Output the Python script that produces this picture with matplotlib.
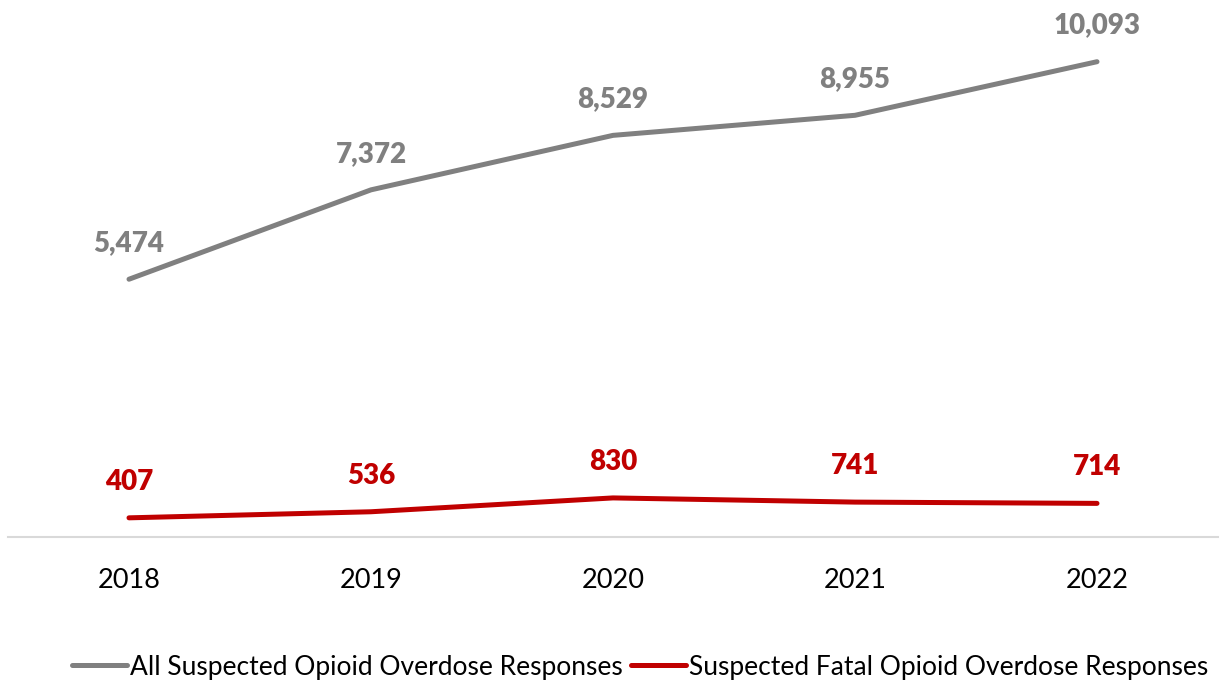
import matplotlib
matplotlib.use("Agg")
import matplotlib.pyplot as plt

years = ["2018", "2019", "2020", "2021", "2022"]
all_responses = [5474, 7372, 8529, 8955, 10093]
fatal_responses = [407, 536, 830, 741, 714]
series_names = ["All Suspected Opioid Overdose Responses",
                "Suspected Fatal Opioid Overdose Responses"]

plt.rcParams['font.family'] = ['Lato', 'DejaVu Sans']

W, H = 1228, 682
fig = plt.figure(figsize=(W/100, H/100), dpi=100)
ax = fig.add_axes([8/W, 1-537/H, (1218-8)/W, (537-19)/H])

x = list(range(len(years)))
gray = "#808080"
red = "#C00000"
l1, = ax.plot(x, all_responses, color=gray, lw=3.6, solid_capstyle='round', label=series_names[0])
l2, = ax.plot(x, fatal_responses, color=red, lw=3.6, solid_capstyle='round', label=series_names[1])

for xi, v in zip(x, all_responses):
    ax.annotate(f"{v:,}", (xi, v), xytext=(0, 26), textcoords='offset points',
                ha='center', va='center', fontsize=20, fontweight='heavy', color=gray)
for xi, v in zip(x, fatal_responses):
    ax.annotate(f"{v:,}", (xi, v), xytext=(0, 26), textcoords='offset points',
                ha='center', va='center', fontsize=20, fontweight='heavy', color=red)

ax.set_xlim(-0.5, len(years) - 0.5)
ax.set_ylim(0, 11000)
ax.set_xticks(x)
ax.set_xticklabels(years, fontsize=19.5)
ax.tick_params(axis='x', length=0, pad=22)
ax.set_yticks([])
for s in ['top', 'right', 'left']:
    ax.spines[s].set_visible(False)
ax.spines['bottom'].set_color("#D9D9D9")
ax.spines['bottom'].set_linewidth(1.5)
ax.patch.set_alpha(0)

fig.legend(handles=[l1, l2], loc='center', bbox_to_anchor=(640/W, 1-667/H), ncol=2,
           frameon=False, fontsize=19, handlelength=2.1, handletextpad=0.1,
           columnspacing=0.3)

fig.savefig("out.png", dpi=100, facecolor='white')
